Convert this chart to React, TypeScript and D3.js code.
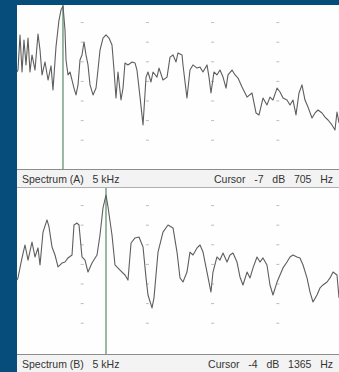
import React, { useEffect, useRef } from 'react';
import * as d3 from 'd3';

// frequency (Hz) / level (dB)
const freqsA = [0, 15, 46, 77, 107, 138, 169, 199, 230, 276, 322, 353, 384, 430, 476, 522, 552, 598, 644, 675, 706, 736, 752, 782, 813, 844, 874, 905, 936, 966, 997, 1028, 1058, 1089, 1120, 1166, 1212, 1242, 1273, 1319, 1365, 1411, 1457, 1488, 1518, 1549, 1595, 1626, 1656, 1702, 1764, 1810, 1840, 1887, 1933, 1979, 2009, 2055, 2086, 2147, 2178, 2239, 2301, 2347, 2393, 2439, 2469, 2531, 2546, 2607, 2653, 2699, 2761, 2807, 2853, 2914, 2945, 2975, 3021, 3067, 3113, 3160, 3206, 3236, 3298, 3344, 3390, 3451, 3528, 3604, 3666, 3712, 3773, 3834, 3880, 3926, 3988, 4034, 4080, 4141, 4187, 4233, 4279, 4325, 4371, 4417, 4463, 4525, 4571, 4617, 4678, 4724, 4770, 4831, 4877, 4908, 4939];
const levelsA = [-35.2, -34.2, -16.3, -35.2, -18.9, -31.6, -17.9, -35.2, -26.5, -34.2, -15.8, -24.0, -36.7, -30.1, -39.3, -32.1, -44.4, -22.4, -8.7, -3.6, -1.5, -13.8, -29.1, -36.7, -35.2, -39.3, -43.4, -46.9, -41.8, -29.1, -26.5, -19.9, -26.5, -31.6, -41.8, -46.9, -43.4, -34.2, -24.0, -17.9, -16.3, -17.9, -21.4, -34.2, -48.5, -35.2, -49.5, -43.4, -30.6, -31.6, -30.1, -30.6, -34.2, -48.0, -62.2, -37.8, -35.2, -40.3, -35.2, -37.8, -33.2, -39.3, -37.8, -27.6, -26.5, -30.1, -25.5, -26.5, -31.6, -48.5, -34.2, -31.6, -33.2, -32.7, -35.2, -31.6, -37.8, -45.9, -35.2, -36.7, -34.2, -37.8, -43.4, -36.7, -34.2, -36.7, -38.3, -42.9, -48.0, -45.9, -56.1, -57.1, -48.5, -52.0, -48.0, -49.5, -43.4, -45.4, -48.5, -49.5, -52.0, -49.5, -57.1, -45.9, -41.8, -49.5, -53.1, -58.7, -56.1, -54.6, -56.1, -58.2, -59.7, -62.2, -64.8, -55.6, -61.2];

const freqsB = [0, 15, 77, 123, 169, 230, 276, 322, 353, 399, 460, 491, 537, 583, 629, 690, 736, 782, 844, 874, 920, 951, 997, 1043, 1089, 1150, 1227, 1273, 1319, 1365, 1396, 1457, 1503, 1580, 1656, 1702, 1749, 1810, 1871, 1933, 1979, 2009, 2071, 2101, 2163, 2239, 2316, 2393, 2454, 2500, 2546, 2607, 2653, 2699, 2761, 2807, 2853, 2914, 2975, 3006, 3067, 3113, 3160, 3221, 3267, 3313, 3374, 3420, 3466, 3528, 3574, 3620, 3681, 3727, 3773, 3834, 3880, 3926, 3988, 4034, 4080, 4141, 4187, 4233, 4294, 4340, 4387, 4448, 4494, 4540, 4601, 4647, 4693, 4755, 4801, 4847, 4908, 4939];
const levelsB = [-47.9, -46.9, -36.7, -30.1, -37.8, -28.6, -36.2, -31.6, -40.3, -23.5, -17.3, -20.9, -31.1, -35.2, -41.3, -39.3, -38.8, -36.7, -35.2, -19.9, -18.9, -19.9, -36.2, -37.8, -43.9, -39.3, -35.2, -25.0, -11.2, -4.6, -10.7, -25.0, -40.3, -42.9, -45.4, -48.0, -29.1, -26.5, -26.0, -31.1, -46.9, -55.6, -62.2, -57.1, -33.7, -23.5, -19.9, -21.4, -33.7, -46.9, -49.0, -43.9, -33.7, -35.2, -31.6, -30.1, -33.7, -43.9, -54.1, -43.9, -36.2, -37.8, -34.2, -38.8, -35.2, -34.2, -38.8, -46.4, -50.5, -43.9, -46.9, -41.8, -36.2, -38.8, -36.7, -40.3, -50.5, -55.6, -49.0, -45.4, -41.8, -38.8, -36.2, -35.2, -36.2, -36.7, -40.3, -46.9, -54.1, -59.2, -55.6, -52.0, -50.5, -49.0, -46.9, -43.9, -45.4, -57.1];

const gridFreqs = [1000, 2000, 3000, 4000];
const gridLevels = [-10, -20, -30, -40, -50, -60, -70];

const panels = [
    { name: 'Spectrum (A)', span: '5 kHz', cursorHz: 705, cursorDb: -7, freqs: freqsA, levels: levelsA, top: 5, height: 164 },
    { name: 'Spectrum (B)', span: '5 kHz', cursorHz: 1365, cursorDb: -4, freqs: freqsB, levels: levelsB, top: 188, height: 166 },
];

const App: React.FC = () => {
    const ref = useRef<SVGSVGElement>(null);

    useEffect(() => {
        const svg = d3.select(ref.current);
        svg.selectAll('*').remove();

        const W = 339, H = 372;
        const left = 17;
        const barH = 19;
        const font = 'Liberation Sans, Arial, sans-serif';

        svg.append('rect').attr('width', W).attr('height', H).attr('fill', '#064d7b');

        const x = d3.scaleLinear().domain([0, 5000]).range([left, left + 326]);

        panels.forEach(p => {
            const y = d3.scaleLinear().domain([0, -80]).range([p.top - 2, p.top - 2 + 156.8]);
            const g = svg.append('g');

            g.append('rect')
                .attr('x', left).attr('y', p.top)
                .attr('width', W - left).attr('height', p.height)
                .attr('fill', '#fefefe');

            // grid dots
            gridFreqs.forEach(f => {
                gridLevels.forEach(l => {
                    g.append('line')
                        .attr('x1', x(f) - 1.5).attr('x2', x(f) + 1.5)
                        .attr('y1', y(l)).attr('y2', y(l))
                        .attr('stroke', '#bcbcbc').attr('stroke-width', 1);
                });
            });

            // cursor
            g.append('line')
                .attr('x1', x(p.cursorHz)).attr('x2', x(p.cursorHz))
                .attr('y1', p.top).attr('y2', p.top + p.height)
                .attr('stroke', '#74a383').attr('stroke-width', 1.5);

            const pts = p.freqs.map((f, i) => [f, p.levels[i]] as [number, number]);
            const line = d3.line<[number, number]>().x(d => x(d[0])).y(d => y(d[1]));
            g.append('path')
                .attr('d', line(pts))
                .attr('fill', 'none')
                .attr('stroke', '#5e5e5e')
                .attr('stroke-width', 1.1)
                .attr('stroke-linejoin', 'round');

            // label bar
            const by = p.top + p.height;
            g.append('rect')
                .attr('x', left).attr('y', by)
                .attr('width', W - left).attr('height', barH)
                .attr('fill', '#f3f3f3');
            g.append('line')
                .attr('x1', left).attr('x2', W).attr('y1', by + 0.5).attr('y2', by + 0.5)
                .attr('stroke', '#8c8c8c');
            g.append('line')
                .attr('x1', left).attr('x2', W).attr('y1', by + barH - 0.5).attr('y2', by + barH - 0.5)
                .attr('stroke', '#b0b0b0');

            g.append('text')
                .attr('x', left + 5).attr('y', by + 14)
                .attr('font-family', font)
                .attr('font-size', 10.5)
                .attr('fill', '#333')
                .style('white-space', 'pre')
                .text(`${p.name}   ${p.span}`);

            g.append('text')
                .attr('x', 333).attr('y', by + 14)
                .attr('text-anchor', 'end')
                .attr('font-family', font)
                .attr('font-size', 10.5)
                .attr('fill', '#333')
                .style('white-space', 'pre')
                .text(`Cursor   ${p.cursorDb}   dB   ${p.cursorHz}   Hz`);
        });
    }, []);

    return (
        <svg ref={ref} width={339} height={372}
            style={{ position: 'fixed', left: 0, top: 0, display: 'block' }} />
    );
};

export default App;
